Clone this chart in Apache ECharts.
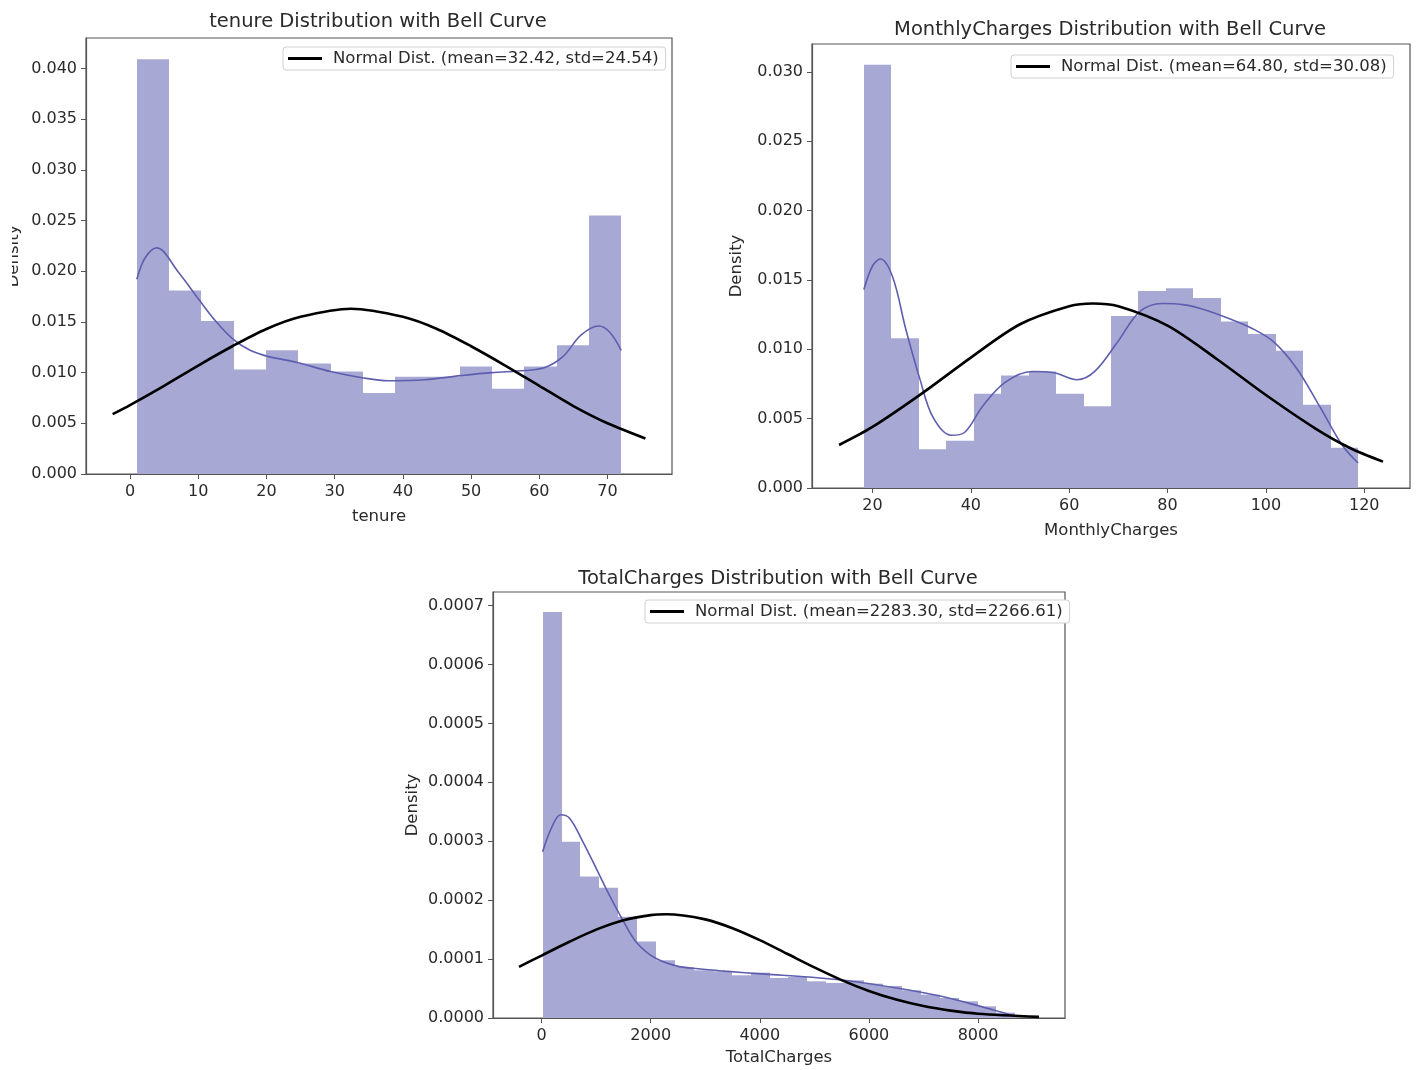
<!DOCTYPE html>
<html>
<head>
<meta charset="utf-8">
<script src="https://cdn.jsdelivr.net/npm/echarts@6/dist/echarts.min.js"></script>
<style>
html, body { margin: 0; padding: 0; background: #fff; }
#main { width: 1416px; height: 1070px; }
</style>
</head>
<body>
<div id="main"></div>
<script>
// tenure
var tenureRange = [1, 72];
var tenureDensity = [0.0409, 0.0181, 0.0151, 0.0103, 0.0122, 0.0109, 0.0101, 0.0080,
    0.0096, 0.0096, 0.0106, 0.0084, 0.0106, 0.0127, 0.0255];
var tenureKde = [[1, 0.0192], [2.2, 0.0213], [3.9, 0.0223], [7.1, 0.0199], [10.1, 0.0172],
    [12.4, 0.0152], [15.1, 0.0133], [17.6, 0.0122], [20.2, 0.0116], [24.5, 0.0110],
    [29.4, 0.0101], [34, 0.0095], [37.9, 0.0092], [43.2, 0.0093], [48.4, 0.0097],
    [53, 0.0100], [57.9, 0.0102], [60.8, 0.0105], [63.5, 0.0116], [66.1, 0.0137],
    [68.7, 0.0146], [70.3, 0.0140], [72, 0.0122]];
var tenureBell = [[-2.55, 0.0059], [0, 0.0068], [5, 0.0087], [10, 0.0107], [15, 0.0126],
    [20, 0.0143], [25, 0.0155], [32.4, 0.0163], [40, 0.0155], [45, 0.0143], [50, 0.0126],
    [55, 0.0107], [60, 0.0087], [65, 0.0067], [70, 0.0050], [75.55, 0.0035]];
var tenureXTicks = [0, 10, 20, 30, 40, 50, 60, 70];
var tenureYTicks = [0, 0.005, 0.010, 0.015, 0.020, 0.025, 0.030, 0.035, 0.040];

// MonthlyCharges
var monthlyRange = [18.25, 118.75];
var monthlyDensity = [0.0305, 0.0108, 0.0028, 0.0034, 0.0068, 0.0081, 0.0084, 0.0068, 0.0059,
    0.0124, 0.0142, 0.0144, 0.0137, 0.0120, 0.0111, 0.0099, 0.0060, 0.0029];
var monthlyKde = [[18.25, 0.0143], [20, 0.0160], [21.6, 0.0165], [24.1, 0.0152], [26.8, 0.0114],
    [29.6, 0.0079], [32.3, 0.0051], [36, 0.0038], [38.7, 0.0040], [42.4, 0.0059],
    [46.9, 0.0076], [52.4, 0.0084], [57, 0.0083], [61.6, 0.0078], [65.2, 0.0084],
    [69.8, 0.0105], [74.3, 0.0127], [78.9, 0.0133], [83.5, 0.0132], [88, 0.0128],
    [92.6, 0.0122], [97.2, 0.0115], [101.7, 0.0105], [106.3, 0.0086], [110.9, 0.0059],
    [115.5, 0.0031], [118.75, 0.0018]];
var monthlyBell = [[13.2, 0.0031], [20, 0.0044], [30, 0.0068], [40, 0.0094], [50, 0.0118],
    [60, 0.0131], [64.8, 0.0133], [70, 0.0131], [80, 0.0117], [90, 0.0093], [100, 0.0067],
    [110, 0.0043], [117, 0.0029], [123.8, 0.0019]];
var monthlyXTicks = [20, 40, 60, 80, 100, 120];
var monthlyYTicks = [0, 0.005, 0.010, 0.015, 0.020, 0.025, 0.030];

// TotalCharges
var totalRange = [18.8, 8684.8];
var totalDensity = [0.000689, 0.000299, 0.000240, 0.000221, 0.000172, 0.000130, 0.000098,
    0.0000866, 0.000081, 0.0000793, 0.0000725, 0.000077, 0.000068, 0.0000697, 0.0000623,
    0.0000595, 0.000064, 0.0000583, 0.0000544, 0.000047, 0.0000396, 0.000034, 0.0000283,
    0.0000198, 0.0000091];
var totalKde = [[18.8, 0.000282], [187, 0.000324], [350, 0.000345], [513, 0.000339],
    [757, 0.000299], [1001, 0.000254], [1245, 0.000208], [1489, 0.000166], [1733, 0.000129],
    [2059, 0.000103], [2465, 0.0000885], [2872, 0.0000835], [3360, 0.0000795],
    [4093, 0.0000745], [4906, 0.0000695], [5720, 0.000062], [6534, 0.0000505],
    [7347, 0.0000365], [7998, 0.000021], [8405, 0.0000105], [8684, 0.000003]];
var totalBell = [[-414.5, 0.0000867], [0, 0.000106], [500, 0.000129], [1000, 0.000150],
    [1500, 0.000166], [2000, 0.0001746], [2283, 0.000176], [3000, 0.0001674],
    [3500, 0.0001524], [4000, 0.0001321], [4500, 0.000109], [5000, 0.0000858],
    [5500, 0.0000643], [6000, 0.0000459], [6500, 0.0000312], [7000, 0.0000202],
    [7500, 0.0000125], [8000, 0.0000073], [9118, 0.0000019]];
var totalXTicks = [0, 2000, 4000, 6000, 8000];
var totalYTicks = [0, 0.0001, 0.0002, 0.0003, 0.0004, 0.0005, 0.0006, 0.0007];

var barColor = '#a8a8d4';
var kdeColor = '#5e5eae';
var axisColor = '#555';
var textColor = '#2a2a2a';
var font = 'DejaVu Sans';

// equal-width bins over the data range
function histData(range, heights) {
    var w = (range[1] - range[0]) / heights.length;
    return heights.map(function (h, i) {
        return [range[0] + i * w, range[0] + (i + 1) * w, h];
    });
}

function renderBar(params, api) {
    var p0 = api.coord([api.value(0), api.value(2)]);
    var p1 = api.coord([api.value(1), 0]);
    var x0 = Math.round(p0[0]), x1 = Math.round(p1[0]);
    return {
        type: 'rect',
        shape: { x: x0, y: p0[1], width: x1 - x0, height: p1[1] - p0[1] },
        style: { fill: barColor }
    };
}

function xAxisFor(idx, min, max, ticks, name, gap) {
    return {
        type: 'value', gridIndex: idx, min: min, max: max,
        name: name, nameLocation: 'middle', nameGap: gap,
        nameTextStyle: { color: textColor, fontSize: 16.5, fontFamily: font },
        splitLine: { show: false },
        axisLine: { show: true, onZero: false, lineStyle: { color: axisColor, width: 1.2 } },
        axisTick: { show: true, length: 5, customValues: ticks, lineStyle: { color: axisColor } },
        axisLabel: {
            customValues: ticks, color: textColor, fontSize: 16, fontFamily: font, margin: 10,
            formatter: function (v) { return String(v); }
        }
    };
}

function yAxisFor(idx, max, ticks, digits, gap) {
    return {
        type: 'value', gridIndex: idx, min: 0, max: max,
        name: 'Density', nameLocation: 'middle', nameGap: gap, nameRotate: 90,
        nameTextStyle: { color: textColor, fontSize: 16.5, fontFamily: font },
        splitLine: { show: false },
        axisLine: { show: true, onZero: false, lineStyle: { color: axisColor, width: 1.2 } },
        axisTick: { show: true, length: 5, customValues: ticks, lineStyle: { color: axisColor } },
        axisLabel: {
            customValues: ticks, color: textColor, fontSize: 16, fontFamily: font, margin: 9,
            formatter: function (v) { return v.toFixed(digits); }
        }
    };
}

function legendFor(name, left, top) {
    return {
        data: [name], left: left, top: top,
        icon: 'rect', itemWidth: 34, itemHeight: 3,
        backgroundColor: '#fff', borderColor: '#d0d0d0', borderWidth: 1, borderRadius: 3,
        padding: [3, 7, 3, 5],
        textStyle: { color: textColor, fontSize: 16.5, fontFamily: font, padding: [0, 0, 0, 6] }
    };
}

var bellNames = [
    'Normal Dist. (mean=32.42, std=24.54)',
    'Normal Dist. (mean=64.80, std=30.08)',
    'Normal Dist. (mean=2283.30, std=2266.61)'
];

var series = [];
[[tenureRange, tenureDensity, tenureKde, tenureBell],
 [monthlyRange, monthlyDensity, monthlyKde, monthlyBell],
 [totalRange, totalDensity, totalKde, totalBell]].forEach(function (d, i) {
    series.push({
        type: 'custom', xAxisIndex: i, yAxisIndex: i,
        renderItem: renderBar, data: histData(d[0], d[1]),
        encode: { x: [0, 1], y: 2 }, z: 1
    });
    series.push({
        type: 'line', xAxisIndex: i, yAxisIndex: i, data: d[2],
        smooth: 0.35, showSymbol: false, lineStyle: { color: kdeColor, width: 1.6 }, z: 3
    });
    series.push({
        name: bellNames[i], type: 'line', xAxisIndex: i, yAxisIndex: i, data: d[3],
        smooth: 0.3, showSymbol: false, color: '#000', lineStyle: { color: '#000', width: 2.6 }, z: 4
    });
});

var chart = echarts.init(document.getElementById('main'));
chart.setOption({
    animation: false,
    backgroundColor: '#fff',
    title: [
        { text: 'tenure Distribution with Bell Curve', left: 373, top: 7, textAlign: 'center' },
        { text: 'MonthlyCharges Distribution with Bell Curve', left: 1105, top: 15, textAlign: 'center' },
        { text: 'TotalCharges Distribution with Bell Curve', left: 773, top: 564, textAlign: 'center' }
    ].map(function (t) {
        t.textStyle = { color: textColor, fontSize: 19.5, fontWeight: 'normal', fontFamily: font };
        return t;
    }),
    legend: [
        legendFor(bellNames[0], 283, 47),
        legendFor(bellNames[1], 1011, 55),
        legendFor(bellNames[2], 645, 600)
    ],
    grid: [
        { left: 86, top: 38, width: 586, height: 436, show: true, borderColor: axisColor, borderWidth: 1.2 },
        { left: 812, top: 44, width: 598, height: 444, show: true, borderColor: axisColor, borderWidth: 1.2 },
        { left: 493, top: 592, width: 572, height: 426, show: true, borderColor: axisColor, borderWidth: 1.2 }
    ],
    xAxis: [
        xAxisFor(0, -6.45, 79.45, tenureXTicks, 'tenure', 34),
        xAxisFor(1, 7.7, 129.3, monthlyXTicks, 'MonthlyCharges', 34),
        xAxisFor(2, -891, 9595, totalXTicks, 'TotalCharges', 31)
    ],
    yAxis: [
        yAxisFor(0, 0.043, tenureYTicks, 3, 64),
        yAxisFor(1, 0.032, monthlyYTicks, 3, 67),
        yAxisFor(2, 0.000723, totalYTicks, 4, 72)
    ],
    graphic: [
        // the left edge of the first figure is cut off in the source
        { type: 'rect', left: 0, top: 180, shape: { width: 12, height: 160 }, style: { fill: '#fff' }, z: 100 }
    ],
    series: series
});
</script>
</body>
</html>
